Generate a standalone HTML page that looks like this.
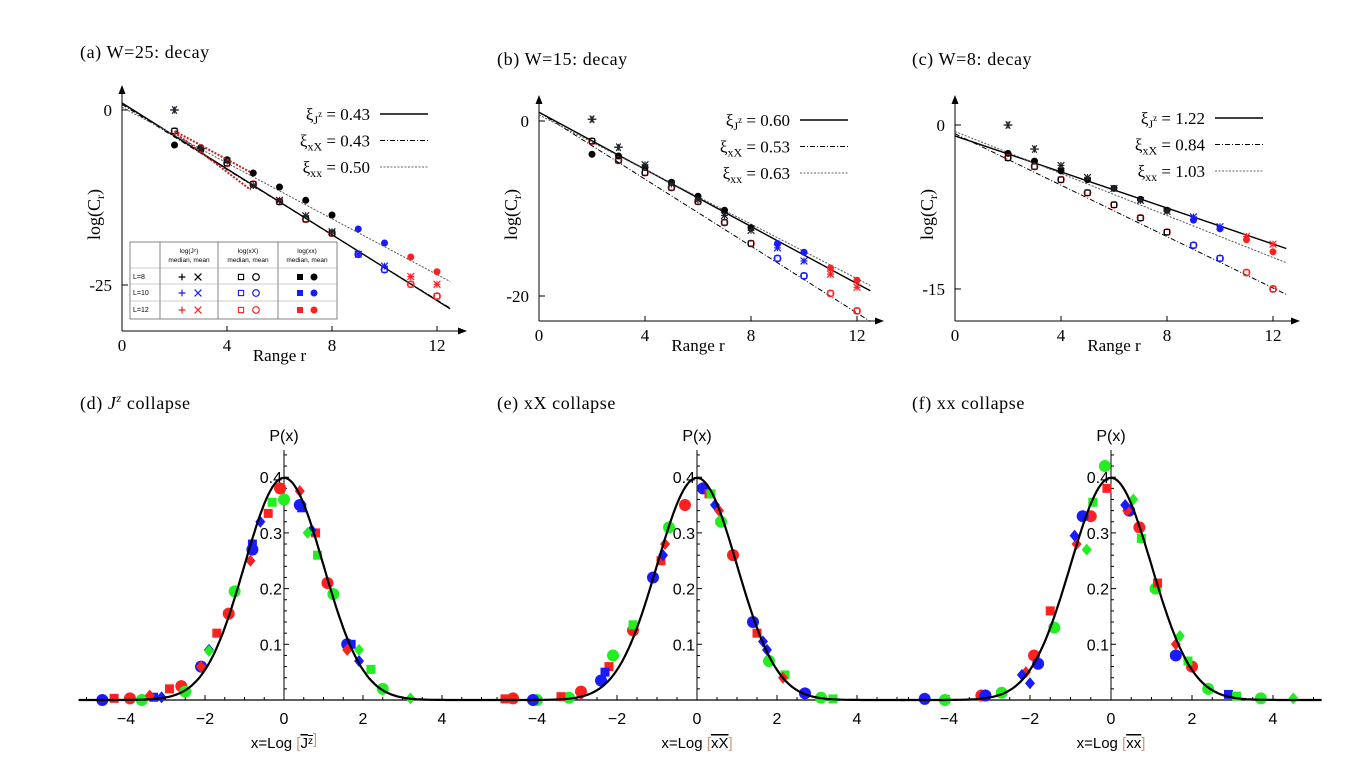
<!DOCTYPE html>
<html><head><meta charset="utf-8"><style>
body{margin:0;background:#fff}
svg{display:block}
.serif{font-family:"Liberation Serif",serif}
.sans{font-family:"Liberation Sans",sans-serif}
</style></head><body>
<svg id="fig" width="1359" height="774" viewBox="0 0 1359 774" xmlns="http://www.w3.org/2000/svg"></svg>
<script>
// ---- decay panels data ----
const ranges = [2,3,4,5,6,7,8,9,10,11,12];
const aJz = [0,-5.5,-7.3,-10.8,-12.9,-15.1,-17.4,-20.6,-22.3,-23.8,-24.9];
const aXX = [-3.0,-5.6,-7.6,-10.6,-13.1,-15.6,-17.6,-20.6,-22.8,-24.9,-26.6];
const aXx = [-5.0,-5.4,-7.1,-9.0,-11.0,-12.9,-15.0,-17.0,-19.0,-21.0,-23.1];
const bJz = [0.2,-3.0,-5.0,-7.2,-9.0,-10.8,-12.5,-14.5,-16.0,-17.5,-19.0];
const bXX = [-2.3,-4.5,-5.9,-7.6,-9.2,-11.6,-14.0,-15.7,-17.7,-19.7,-21.7];
const bXx = [-3.8,-4.0,-5.3,-7.0,-8.6,-10.2,-12.2,-14.0,-15.0,-16.8,-18.2];
const cJz = [0,-2.2,-3.7,-4.8,-5.8,-6.9,-7.9,-8.4,-9.3,-10.2,-10.9];
const cXX = [-3.0,-3.8,-5.0,-6.2,-7.3,-8.5,-9.8,-11.0,-12.2,-13.5,-15.0];
const cXx = [-2.6,-3.3,-4.2,-5.0,-5.8,-6.8,-7.8,-8.7,-9.5,-10.5,-11.6];
const aFits = [[1.0,-28.4],[0.8,-28.3],[0.4,-24.5]];
const bFits = [[1.0,-19.4],[1.0,-22.9],[0.7,-18.8]];
const cFits = [[-1.0,-11.3],[-0.8,-15.5],[-0.6,-12.6]];
const xiLabels = {a:["0.43","0.43","0.50"],b:["0.60","0.53","0.63"],c:["1.22","0.84","1.03"]};
// ---- collapse panels data: x, P(x), color, shape ----
const dX=[-3.9,-2.6,-1.4,-0.1,1.1,-3.6,-2.5,-1.25,0,1.25,2.5,-4.6,-2.1,-0.8,0.4,1.6,-4.3,-2.9,-1.7,-0.4,0.8,0.85,-0.3,2.2,-3.3,-0.8,1.7,0.45,-3.4,-2.1,-0.85,0.4,1.6,-3.1,-1.9,-0.6,0.7,1.9,-1.9,0.6,1.9,3.2];
const dP=[0.003,0.025,0.155,0.38,0.21,0.0,0.015,0.195,0.36,0.19,0.02,0.0,0.06,0.27,0.35,0.10,0.003,0.02,0.12,0.335,0.30,0.26,0.355,0.055,0.005,0.28,0.10,0.345,0.008,0.06,0.25,0.375,0.09,0.005,0.09,0.32,0.305,0.07,0.088,0.30,0.09,0.003];
const dC="rrrrrgggggg bbbbbrrrrrgggbbbbrrrrrbbbbbgggg".replace(/ /g,'');
const dS="ccccccccccccccccssssssssssssddddddddddddddd";
const eX=[-4.6,-2.9,-1.6,-0.3,0.9,-4.0,-3.2,-2.1,-0.7,0.6,1.8,3.1,-4.1,-2.4,-1.1,0.15,1.4,2.7,-4.8,-3.4,-2.2,-0.9,0.3,1.5,-1.6,0.35,2.2,3.4,-2.3,-0.85,0.45,1.65,-0.3,2.15,-0.8,0.55,1.75,-2.9];
const eP=[0.003,0.015,0.125,0.35,0.26,0.0,0.004,0.08,0.31,0.32,0.07,0.004,0.0,0.035,0.22,0.38,0.14,0.012,0.002,0.006,0.06,0.25,0.37,0.12,0.135,0.37,0.045,0.002,0.05,0.26,0.35,0.105,0.35,0.04,0.28,0.34,0.09,0.01];
const eC="rrrrrggggggg bbbbbbrrrrrrgggg bbbbrrrrbrg".replace(/ /g,'');
const eS="cccccccccccccccccc sssssssssss ddddddddd".replace(/ /g,'');
const fX=[-3.2,-1.9,-0.5,0.7,2.0,-4.1,-2.7,-1.4,-0.15,1.1,2.4,3.7,-4.6,-3.1,-1.8,-0.7,0.45,1.6,2.9,-1.5,-0.1,1.15,-0.45,0.75,1.9,3.1,-2.1,-0.85,0.4,1.6,-2.2,-0.9,0.35,1.7,4.5,-2.0,-0.6,0.55];
const fP=[0.008,0.08,0.33,0.31,0.06,0.0,0.013,0.13,0.42,0.20,0.02,0.003,0.002,0.008,0.065,0.33,0.34,0.08,0.01,0.16,0.38,0.21,0.355,0.29,0.07,0.007,0.05,0.28,0.34,0.10,0.045,0.295,0.35,0.115,0.003,0.03,0.27,0.36];
const fC="rrrrrggggggg bbbbbbbrrrggggrrrrbbbggbgg".replace(/ /g,'');
const fS="cccccccccccccccccc ssssssssddddddddddddddd".replace(/ /g,'');
const xTicksTop=[0,4,8,12];
const xTicksBot=[-4,-2,0,2,4];
const yTicksBot=[0.1,0.2,0.3,0.4];

const NS="http://www.w3.org/2000/svg";
const svg=document.getElementById('fig');
function el(tag,attrs,parent,txt){const e=document.createElementNS(NS,tag);for(const k in attrs)e.setAttribute(k,attrs[k]);if(txt!==undefined)e.textContent=txt;(parent||svg).appendChild(e);return e;}
const COL={k:"#000",b:"#1a1aff",r:"#ff2020",g:"#22ee22"};

function marker(g,type,x,y,c){
  const s=3.4;
  if(type==='ast'){for(const a of [0,60,120]){const r=a*Math.PI/180;el('line',{x1:x-s*Math.cos(r)*1.3,y1:y-s*Math.sin(r)*1.3,x2:x+s*Math.cos(r)*1.3,y2:y+s*Math.sin(r)*1.3,stroke:c,'stroke-width':1.2},g);} }
  else if(type==='x'){el('path',{d:`M${x-s},${y-s}L${x+s},${y+s}M${x-s},${y+s}L${x+s},${y-s}`,stroke:c,'stroke-width':1.2,fill:'none'},g);}
  else if(type==='plus'){el('path',{d:`M${x-s},${y}L${x+s},${y}M${x},${y-s}L${x},${y+s}`,stroke:c,'stroke-width':1.2,fill:'none'},g);}
  else if(type==='oc'){el('circle',{cx:x,cy:y,r:3.3,stroke:c,'stroke-width':1.2,fill:'none'},g);}
  else if(type==='os'){el('rect',{x:x-2.6,y:y-2.6,width:5.2,height:5.2,stroke:c,'stroke-width':1.1,fill:'none'},g);}
  else if(type==='fc'){el('circle',{cx:x,cy:y,r:3.5,fill:c},g);}
}

function decayPanel(id,title,tx,ty,x0,x12,yAx,y0px,pxPerUnit,yTicks,jz,xX,xx,fits,xi,legX,legY,top){
  const g=el('g',{},svg);
  
  
  const X=r=>x0+(x12-x0)*r/12, Y=v=>y0px-v*pxPerUnit;
  el('text',{x:tx,y:ty,'font-size':18,'letter-spacing':0.6,class:'serif'},g,title);
  el('line',{x1:X(0),y1:yAx,x2:X(0)+343,y2:yAx,stroke:'#000','stroke-width':1},g);
  el('path',{d:`M${X(0)+345},${yAx}l-9,-3.5v7z`,fill:'#000'},g);
  el('line',{x1:X(0),y1:yAx,x2:X(0),y2:top,stroke:'#000','stroke-width':1},g);
  el('path',{d:`M${X(0)},${top-3}l-3.5,9h7z`,fill:'#000'},g);
  for(const t of xTicksTop){el('line',{x1:X(t),y1:yAx,x2:X(t),y2:yAx-5,stroke:'#000'},g);el('text',{x:X(t),y:yAx+20,'text-anchor':'middle','font-size':17,class:'serif'},g,t);}
  for(const t of yTicks){el('line',{x1:X(0),y1:Y(t),x2:X(0)+6,y2:Y(t),stroke:'#000'},g);el('text',{x:X(0)-10,y:Y(t)+6,'text-anchor':'end','font-size':17,class:'serif'},g,t);}
  el('text',{x:X(6),y:yAx+30,'text-anchor':'middle','font-size':17,class:'serif'},g,'Range r');
  const yl=el('text',{x:0,y:0,'font-size':18,class:'serif',transform:`translate(${X(0)-22},${(top+yAx)/2+5}) rotate(-90)`,'text-anchor':'middle'},g);
  yl.innerHTML='log(C<tspan font-size="12" dy="4">r</tspan><tspan dy="-4">)</tspan>';
  const dashes=[null,'5,2,1,2','2,1.5'];
  fits.forEach((f,i)=>{el('line',{x1:X(0),y1:Y(f[0]),x2:X(12.5),y2:Y(f[1]),stroke:i==2?'#555':'#000','stroke-width':i==0?1.4:1,'stroke-dasharray':dashes[i]||'none'},g);});
  ranges.forEach((r,i)=>{
    const c=r<=8?COL.k:(r<=10?COL.b:COL.r);
    marker(g,'fc',X(r),Y(xx[i]),c);
    marker(g,'oc',X(r),Y(xX[i]),r<=8?COL.r:c);
    marker(g,'os',X(r),Y(xX[i]),c);
    marker(g,r===2||r===3?'ast':'x',X(r),Y(jz[i]),r<=8?'#222':c);
    marker(g,'plus',X(r),Y(jz[i]),r<=8?'#223':c);
  });
  const names=['J','xX','xx'];
  names.forEach((n,i)=>{
    const yy=legY+i*26.5;
    const t=el('text',{x:legX,y:yy+6,'text-anchor':'end','font-size':17,class:'serif'},g);
    t.innerHTML= n==='J' ? `ξ<tspan font-size="12" dy="4">J</tspan><tspan font-size="9" dy="-7">z</tspan><tspan dy="3"> = ${xi[i]}</tspan>` : `ξ<tspan font-size="12" dy="4">${n}</tspan><tspan dy="-4"> = ${xi[i]}</tspan>`;
    el('line',{x1:legX+10,y1:yy,x2:legX+58,y2:yy,stroke:i==2?'#666':'#000','stroke-width':i==0?1.4:1,'stroke-dasharray':dashes[i]||'none'},g);
  });
  return {g,X,Y};
}

const pa=decayPanel('a','(a) W=25:  decay',80,58,122,437,331,110,7,[0,-25],aJz,aXX,aXx,aFits,xiLabels.a,370,114,88);
el('path',{d:`M${pa.X(2)},${pa.Y(-3)}L${pa.X(4.9)},${pa.Y(-8.9)}M${pa.X(2)},${pa.Y(-3.2)}L${pa.X(4.9)},${pa.Y(-11.4)}`,stroke:'#c02020','stroke-width':2,'stroke-dasharray':'2,1.5',fill:'none'},pa.g);
(function(){
  const g=el('g',{},pa.g);
  
  
  el('rect',{x:130,y:242,width:207,height:77,fill:'#fff',stroke:'#666','stroke-width':0.8},g);
  for(const x of [160,218,278])el('line',{x1:x,y1:242,x2:x,y2:319,stroke:'#666','stroke-width':0.8},g);
  for(const y of [268,284,301])el('line',{x1:130,y1:y,x2:337,y2:y,stroke:'#999','stroke-width':0.6},g);
  const hd=[['log(J',189],['log(xX)',248],['log(xx)',307]];
  hd.forEach(h=>{el('text',{x:h[1],y:253,'text-anchor':'middle','font-size':6.5,class:'sans'},g,h[0]+(h[0]==='log(J'?'ᶻ)':''));el('text',{x:h[1],y:262,'text-anchor':'middle','font-size':6.5,class:'sans'},g,'median, mean');});
  [['L=8','#000',277],['L=10',COL.b,293],['L=12',COL.r,310]].forEach(r=>{
    el('text',{x:133,y:r[2]+2,'font-size':7,class:'sans'},g,r[0]);
    marker(g,'plus',182,r[2],r[1]);marker(g,'x',198,r[2],r[1]);
    marker(g,'os',241,r[2],r[1]);marker(g,'oc',256,r[2],r[1]);
    el('rect',{x:297,y:r[2]-3,width:6,height:6,fill:r[1]},g);marker(g,'fc',314,r[2],r[1]);
  });
})();
decayPanel('b','(b) W=15:  decay',497,65,539,857,321,121,8.75,[0,-20],bJz,bXX,bXx,bFits,xiLabels.b,790,120,98);
decayPanel('c','(c) W=8:  decay',912,65,955,1273,321,125,10.93,[0,-15],cJz,cXX,cXx,cFits,xiLabels.c,1205,118,98);

function collapsePanel(id,title,tx,x0,ppu,xs,ps,cs,ss,lab){
  const g=el('g',{},svg);
  
  
  const base=700,py=557;
  const X=v=>x0+v*ppu, Y=p=>base-p*py;
  const t=el('text',{x:tx,y:409,'font-size':18,'letter-spacing':0.6,class:'serif'},g);
  t.innerHTML=title;
  el('line',{x1:X(-5.2),y1:base,x2:X(5.2),y2:base,stroke:'#000','stroke-width':1.3},g);
  el('line',{x1:X(0),y1:base,x2:X(0),y2:450,stroke:'#000','stroke-width':1},g);
  for(let v=-5;v<=5;v+=0.5){if(Math.abs(v)<1e-9)continue;el('line',{x1:X(v),y1:base,x2:X(v),y2:base-(v%2===0?5:3),stroke:'#000'},g);}
  for(let p=0.02;p<0.45;p+=0.02){el('line',{x1:X(0),y1:Y(p),x2:X(0)+(Math.round(p*100)%10===0?5:3),y2:Y(p),stroke:'#000'},g);}
  for(const v of xTicksBot)el('text',{x:X(v),y:724,'text-anchor':'middle','font-size':16,class:'sans'},g,(v<0?'\u2212'+(-v):v));
  for(const p of yTicksBot)el('text',{x:X(0)-2,y:Y(p)+6,'text-anchor':'end','font-size':16,class:'sans'},g,p);
  el('text',{x:X(0),y:441,'text-anchor':'middle','font-size':16,class:'sans'},g,'P(x)');
  let d='';for(let v=-5.2;v<=5.2;v+=0.05){const p=Math.exp(-v*v/2)/Math.sqrt(2*Math.PI);d+=(d?'L':'M')+X(v).toFixed(1)+','+Y(p).toFixed(1);}
  for(let i=0;i<xs.length;i++){
    const c=COL[cs[i]]||COL.g, s=ss[i]||'c', x=X(xs[i]), y=Y(ps[i]);
    let m;
    if(s==='c')m=el('circle',{cx:x,cy:y,r:6,fill:c},g);
    else if(s==='s')m=el('rect',{x:x-4.5,y:y-4.5,width:9,height:9,fill:c},g);
    else m=el('path',{d:`M${x},${y-6}L${x+5},${y}L${x},${y+6}L${x-5},${y}z`,fill:c},g);
    
    
  }
  el('path',{d,stroke:'#000','stroke-width':2.2,fill:'none'},g);
  const xl=el('text',{x:X(0),y:748,'text-anchor':'middle','font-size':15,class:'sans'},g);
  xl.innerHTML='x=Log<tspan fill="#c98"> [</tspan><tspan text-decoration="overline">'+lab+'</tspan><tspan fill="#c98">]</tspan>';
}
collapsePanel('d','(d) <tspan font-style="italic">J</tspan><tspan font-style="italic" font-size="12" dy="-7">z</tspan><tspan dy="7"> collapse</tspan>',80,284,39.5,dX,dP,dC,dS,'J<tspan font-size="10" dy="-4">z</tspan>');
collapsePanel('e','(e) xX collapse',497,697,40,eX,eP,eC,eS,'xX');
collapsePanel('f','(f) xx collapse',912,1111,40.5,fX,fP,fC,fS,'xx');
</script>
</body></html>
